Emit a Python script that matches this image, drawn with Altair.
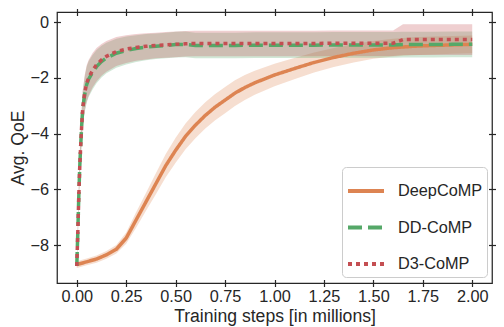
import altair as alt
import pandas as pd

# ---- data ----
series_names = ["DeepCoMP", "DD-CoMP", "D3-CoMP"]
series_colors = ["#dd8452", "#55a868", "#c44e52"]
series_dashes = [[1, 0], [14, 6], [4, 4]]

deep_x = [0, 0.05, 0.1, 0.15, 0.2, 0.25, 0.3, 0.35, 0.4, 0.45, 0.5, 0.55, 0.6, 0.65,
          0.7, 0.75, 0.8, 0.85, 0.9, 1.0, 1.1, 1.2, 1.3, 1.4, 1.5, 1.6, 1.7, 1.8, 1.9, 2.0]
deep_y = [-8.7, -8.6, -8.5, -8.35, -8.15, -7.75, -7.1, -6.45, -5.8, -5.15, -4.6, -4.1,
          -3.7, -3.35, -3.05, -2.8, -2.55, -2.35, -2.18, -1.9, -1.67, -1.45, -1.27,
          -1.12, -1.0, -0.92, -0.87, -0.84, -0.82, -0.8]
deep_sd = [0.12, 0.12, 0.13, 0.14, 0.15, 0.2, 0.28, 0.32, 0.38, 0.42, 0.45, 0.46, 0.47,
           0.47, 0.47, 0.47, 0.46, 0.45, 0.43, 0.4, 0.38, 0.36, 0.34, 0.33, 0.32, 0.32,
           0.32, 0.32, 0.32, 0.32]

dd_x = [0, 0.005, 0.01, 0.015, 0.02, 0.025, 0.03, 0.04, 0.05, 0.06, 0.08, 0.1, 0.125,
        0.15, 0.2, 0.25, 0.3, 0.35, 0.4, 0.45, 0.5, 0.55, 0.6, 0.7, 0.8, 0.9, 1.0, 1.1,
        1.2, 1.3, 1.4, 1.5, 1.6, 1.65, 1.7, 1.8, 1.9, 2.0]
dd_y = [-8.75, -7.6, -6.3, -5.2, -4.4, -3.7, -3.1, -2.6, -2.25, -2.05, -1.8, -1.6, -1.42,
        -1.29, -1.12, -1.02, -0.95, -0.9, -0.87, -0.84, -0.81, -0.8, -0.84, -0.84, -0.84,
        -0.83, -0.83, -0.83, -0.83, -0.82, -0.82, -0.82, -0.82, -0.81, -0.81, -0.81,
        -0.8, -0.8]
dd_sd = [0.1, 0.3, 0.4, 0.5, 0.55, 0.6, 0.62, 0.64, 0.65, 0.64, 0.62, 0.6, 0.57, 0.55,
         0.52, 0.5, 0.48, 0.47, 0.46, 0.46, 0.46, 0.46, 0.46, 0.46, 0.46, 0.46, 0.46,
         0.46, 0.46, 0.46, 0.46, 0.46, 0.46, 0.46, 0.46, 0.46, 0.46, 0.46]

d3_x = dd_x
d3_y = [-8.75, -7.6, -6.3, -5.2, -4.4, -3.7, -3.1, -2.55, -2.2, -2.0, -1.73, -1.53,
        -1.36, -1.23, -1.06, -0.97, -0.91, -0.87, -0.84, -0.82, -0.8, -0.78, -0.77,
        -0.77, -0.77, -0.77, -0.77, -0.77, -0.77, -0.76, -0.76, -0.76, -0.76, -0.63,
        -0.63, -0.63, -0.63, -0.63]
d3_sd = [0.1, 0.3, 0.4, 0.5, 0.55, 0.6, 0.62, 0.64, 0.65, 0.64, 0.62, 0.6, 0.57, 0.55,
         0.52, 0.5, 0.48, 0.47, 0.46, 0.46, 0.46, 0.46, 0.46, 0.46, 0.46, 0.46, 0.46,
         0.46, 0.46, 0.46, 0.46, 0.46, 0.46, 0.55, 0.55, 0.55, 0.55, 0.55]

x_ticks = [0, 0.25, 0.5, 0.75, 1.0, 1.25, 1.5, 1.75, 2.0]
y_ticks = [-8, -6, -4, -2, 0]

rows = []
for name, xs, ys, sds in [("DeepCoMP", deep_x, deep_y, deep_sd),
                          ("DD-CoMP", dd_x, dd_y, dd_sd),
                          ("D3-CoMP", d3_x, d3_y, d3_sd)]:
    for xv, yv, sv in zip(xs, ys, sds):
        rows.append({"series": name, "x": xv, "y": yv, "lo": yv - sv, "hi": yv + sv})
df = pd.DataFrame(rows)

FONT = "Liberation Sans"
TXT = "#262626"

W, H = 435, 271

xscale = alt.Scale(domain=[-0.1, 2.1], nice=False, zero=False)
yscale = alt.Scale(domain=[-9.36, 0.36], nice=False, zero=False)

leg = alt.Legend(
    title=None, orient="none", legendX=W - 150, legendY=H - 116,
    symbolType="stroke", symbolSize=1296, symbolStrokeWidth=4,
    labelFontSize=16.3, labelFont=FONT, labelColor=TXT, labelOffset=12,
    fillColor="white", strokeColor="#cccccc", cornerRadius=4, padding=4,
    rowPadding=7.5,
)

top_axis = alt.Axis(orient="top", values=x_ticks, labels=False, title=None,
                    domain=False, grid=False, tickSize=7, offset=-3.5,
                    tickColor=TXT, tickWidth=1.2)
right_axis = alt.Axis(orient="right", values=y_ticks, labels=False, title=None,
                      domain=False, grid=False, tickSize=7, offset=-3.5,
                      tickColor=TXT, tickWidth=1.2)

band_layers = []
for i, (name, col) in enumerate(zip(series_names, series_colors)):
    band_layers.append(
        alt.Chart(df).transform_filter(alt.datum.series == name)
        .mark_area(color=col, opacity=0.27)
        .encode(
            x=alt.X("x:Q", scale=xscale, axis=top_axis if i == 0 else None),
            y=alt.Y("lo:Q", scale=yscale, axis=right_axis if i == 0 else None),
            y2="hi:Q",
        )
    )

lines = alt.Chart(df).mark_line(strokeWidth=3.5).encode(
    x=alt.X("x:Q", scale=xscale,
            axis=alt.Axis(orient="bottom", values=x_ticks, format=".2f",
                          title="Training steps [in millions]",
                          domain=False, grid=False, tickSize=7, offset=-3.5,
                          tickColor=TXT, tickWidth=1.2, labelPadding=2,
                          labelFontSize=16.3, titleFontSize=17.6, titlePadding=3,
                          labelColor=TXT, titleColor=TXT, labelFont=FONT,
                          titleFont=FONT, titleFontWeight="normal")),
    y=alt.Y("y:Q", scale=yscale,
            axis=alt.Axis(orient="left", values=y_ticks, title="Avg. QoE",
                          domain=False, grid=False, tickSize=7, offset=-3.5,
                          tickColor=TXT, tickWidth=1.2, labelPadding=5,
                          labelFontSize=16.3, titleFontSize=17.6, titlePadding=2,
                          labelColor=TXT, titleColor=TXT, labelFont=FONT,
                          titleFont=FONT, titleFontWeight="normal")),
    color=alt.Color("series:N", scale=alt.Scale(domain=series_names, range=series_colors),
                    legend=leg),
    strokeDash=alt.StrokeDash("series:N",
                              scale=alt.Scale(domain=series_names, range=series_dashes),
                              legend=leg),
)

chart = alt.layer(*band_layers, lines).resolve_axis(
    x="independent", y="independent"
).properties(
    width=W, height=H,
    autosize=alt.AutoSizeParams(type="none"),
    padding={"left": 49, "top": 4, "right": 4, "bottom": 44},
).configure_view(
    stroke=TXT, strokeWidth=1.25
)

chart.save("out.html", embed_options={"renderer": "svg", "actions": False})
